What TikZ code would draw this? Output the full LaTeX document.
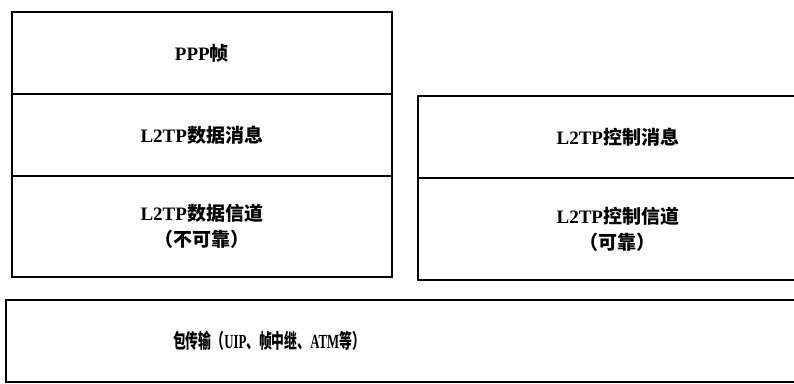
\documentclass[tikz,border=0pt]{standalone}
\usepackage{fontspec}
\setmainfont{Liberation Serif}
\newfontfamily\cjk{Noto Sans CJK SC}
\begin{document}
\begin{tikzpicture}[x=1pt,y=-1pt,
  layer/.style={draw=black,line width=1.6pt,rectangle,anchor=north west,inner sep=0pt,
    align=center,font=\fontsize{19}{26}\selectfont\bfseries},
  lbl/.style={inner sep=0pt,font=\fontsize{20}{24}\selectfont\bfseries}]
\useasboundingbox (0,0) rectangle (794,383);
\clip (0,0) rectangle (794,383);
% left stack
\node[layer,minimum width=380pt,minimum height=82pt] (ppp) at (11,11) {PPP{\cjk 帧}};
\node[layer,minimum width=380pt,minimum height=82pt] (dmsg) at (11,93) {L2TP{\cjk 数据消息}};
\node[layer,minimum width=380pt,minimum height=101pt] (dch) at (11,175) {L2TP{\cjk 数据信道}\\{\cjk （不可靠）}};
% right stack
\node[layer,minimum width=400pt,minimum height=82pt] (cmsg) at (417,95) {L2TP{\cjk 控制消息}};
\node[layer,minimum width=400pt,minimum height=102pt] (cch) at (417,177) {L2TP{\cjk 控制信道}\\{\cjk （可靠）}};
% bottom transport
\draw[line width=1.6pt] (6,300) rectangle (830,382);
\node[lbl] (pt) at (269,341) {\scalebox{0.64}[1]{{\cjk 包传输（}UIP{\cjk 、帧中继、}ATM{\cjk 等）}}};
\end{tikzpicture}
\end{document}
